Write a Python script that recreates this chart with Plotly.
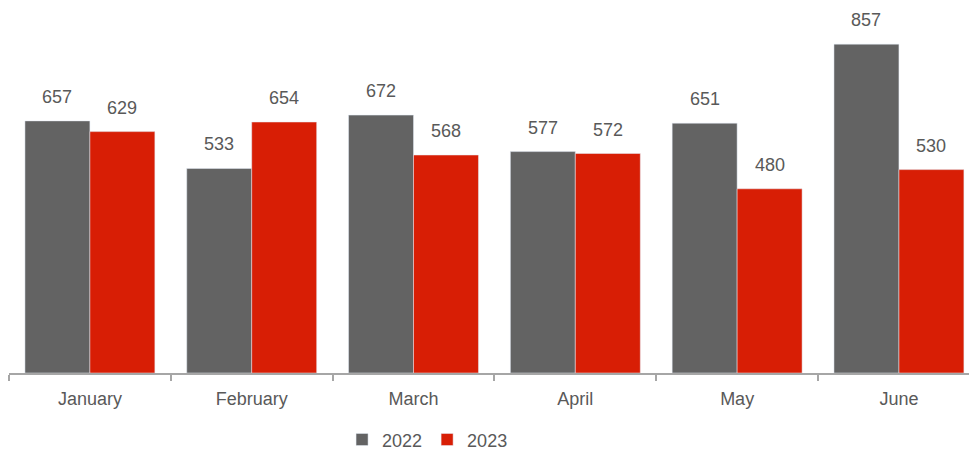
import plotly.graph_objects as go

months = ["January", "February", "March", "April", "May", "June"]
sales_2022 = [657, 533, 672, 577, 651, 857]
sales_2023 = [629, 654, 568, 572, 480, 530]

GRAY = "#636363"
RED = "#D81E05"
TEXT = "#595959"
FONT = "Liberation Sans, Arial, sans-serif"

fig = go.Figure()
fig.add_trace(go.Bar(x=months, y=sales_2022, name="2022", marker_color=GRAY))
fig.add_trace(go.Bar(x=months, y=sales_2023, name="2023", marker_color=RED))

# value labels floating above each bar (left bar = 2022, right bar = 2023)
annotations = []
for series, shift in ((sales_2022, -32.5), (sales_2023, 32.5)):
    for m, v in zip(months, series):
        annotations.append(dict(
            x=m, y=v, text=str(v), showarrow=False,
            xref="x", yref="y", xshift=shift, yshift=12,
            yanchor="bottom", xanchor="center",
            font=dict(size=18, color=TEXT, family=FONT),
        ))

fig.update_layout(
    width=969, height=452,
    margin=dict(l=9, r=0, t=0, b=79, autoexpand=False),
    barmode="group", bargap=0.197, bargroupgap=0,
    plot_bgcolor="white", paper_bgcolor="white",
    font=dict(family=FONT, size=18, color=TEXT),
    showlegend=True,
    annotations=annotations,
    legend=dict(orientation="h", x=0.436, xanchor="center",
                yref="container", y=0.027, yanchor="middle",
                font=dict(size=18, color=TEXT), itemwidth=30,
                tracegroupgap=0),
    xaxis=dict(
        range=[-0.5, 5.433], automargin=False,
        showline=True, linecolor="#A6A6A6", linewidth=2,
        ticks="outside", tickson="boundaries", ticklen=6,
        tickcolor="#A6A6A6", tickwidth=2, ticklabelstandoff=8,
        tickfont=dict(size=18, color=TEXT), showgrid=False,
    ),
    yaxis=dict(range=[0, 972], visible=False, showgrid=False),
)

fig.write_html("out.html")
